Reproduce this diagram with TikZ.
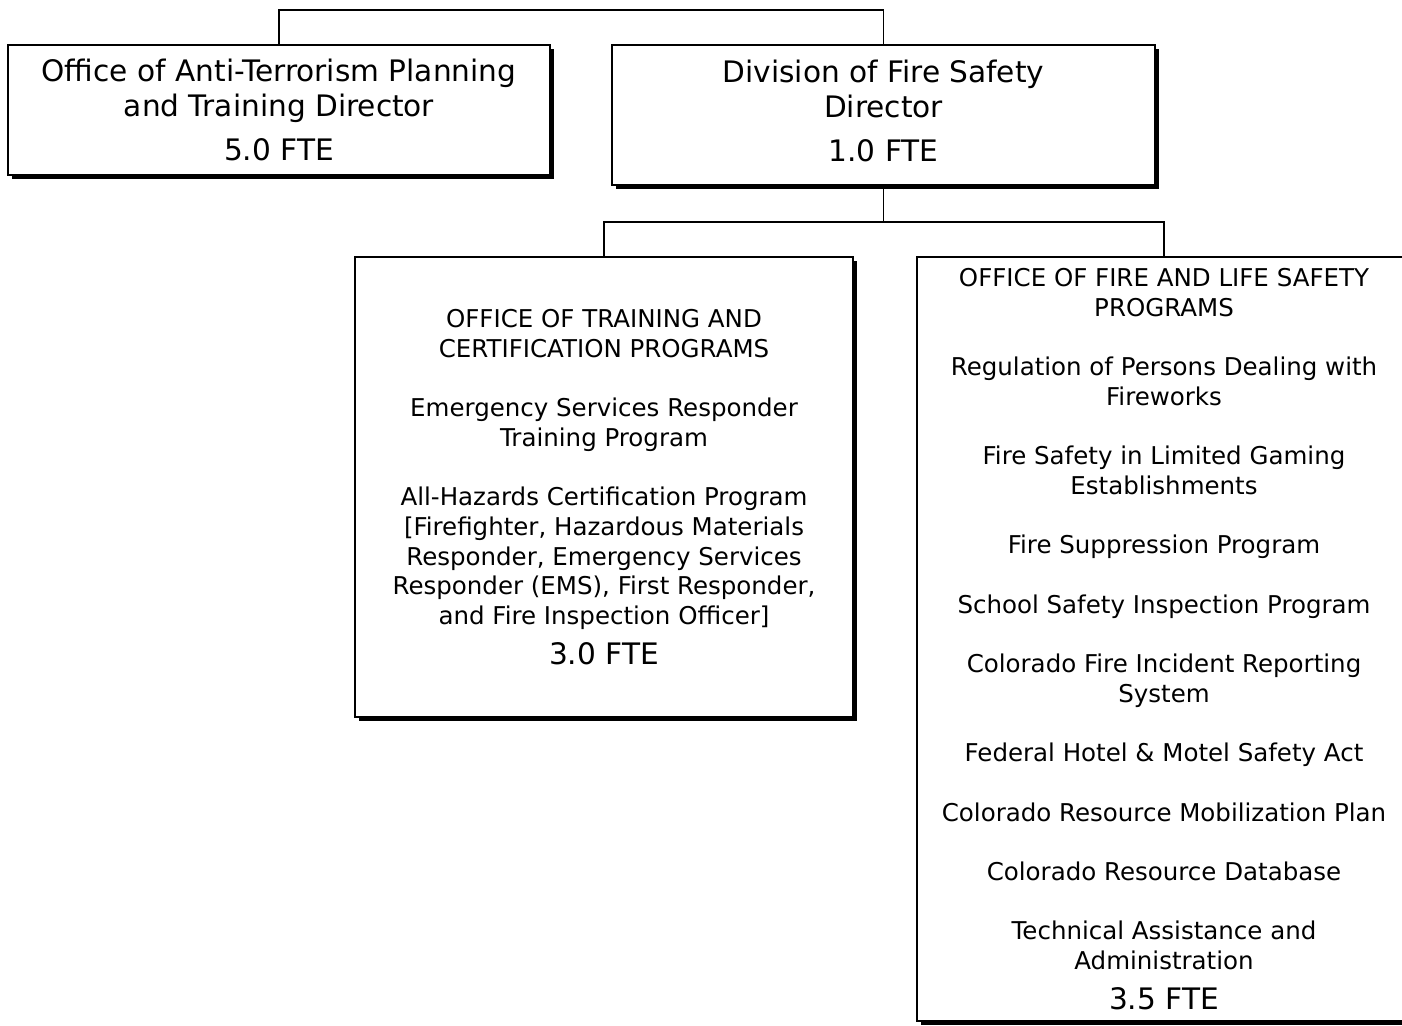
\documentclass[tikz,border=0pt]{standalone}
\usepackage{fontspec}
\setmainfont{DejaVu Sans}
\usetikzlibrary{shadows}
\begin{document}
\begin{tikzpicture}[x=0.5pt,y=-0.5pt,
  orgbox/.style={draw=black, line width=1.1pt, fill=white, align=center,
    inner sep=0pt,
    drop shadow={shadow xshift=2pt, shadow yshift=-2pt, fill=black, opacity=1}},
  bigtext/.style={font=\fontsize{14.8}{17.5}\selectfont},
  smalltext/.style={font=\fontsize{12.25}{14.85}\selectfont},
  link/.style={draw=black, line width=0.9pt}]
\useasboundingbox (0,0) rectangle (1402,1025);
\fill[white] (0,0) rectangle (1402,1025);

% Top row
\node[orgbox, bigtext, minimum width=271pt, minimum height=65pt] (anti) at (279,110)
  {Office of Anti-Terrorism Planning\\and Training Director\\[4.5pt]5.0 FTE};
\node[orgbox, bigtext, minimum width=271.5pt, minimum height=70pt] (div) at (883.5,115)
  {Division of Fire Safety\\Director\\[4.5pt]1.0 FTE\rule[-4pt]{0pt}{0pt}};

% Second row
\node[orgbox, smalltext, minimum width=249pt, minimum height=230pt] (train) at (604,487)
  {OFFICE OF TRAINING AND\\CERTIFICATION PROGRAMS\\[14.85pt]
   Emergency Services Responder\\Training Program\\[14.85pt]
   All-Hazards Certification Program\\{[}Firefighter, Hazardous Materials\\
   Responder, Emergency Services\\Responder (EMS), First Responder,\\
   and Fire Inspection Officer]\\[5pt]
   {\fontsize{14.8}{17.5}\selectfont 3.0 FTE}};
\node[orgbox, smalltext, minimum width=247pt, minimum height=382pt] (life) at (1164,639)
  {OFFICE OF FIRE AND LIFE SAFETY\\PROGRAMS\\[14.85pt]
   Regulation of Persons Dealing with\\Fireworks\\[14.85pt]
   Fire Safety in Limited Gaming\\Establishments\\[14.85pt]
   Fire Suppression Program\\[14.85pt]
   School Safety Inspection Program\\[14.85pt]
   Colorado Fire Incident Reporting\\System\\[14.85pt]
   Federal Hotel \& Motel Safety Act\\[14.85pt]
   Colorado Resource Mobilization Plan\\[14.85pt]
   Colorado Resource Database\\[14.85pt]
   Technical Assistance and\\Administration\\[5pt]
   {\fontsize{14.8}{17.5}\selectfont 3.5 FTE}};

% Connectors
\coordinate (topbar) at (0,10);
\coordinate (midbar) at (0,222);
\draw[link] (anti.north) |- (div.north |- topbar) -- (div.north);
\draw[link] (div.south) -- (div.south |- midbar);
\draw[link] (train.north) |- (life.north |- midbar) -- (life.north);
\end{tikzpicture}
\end{document}
